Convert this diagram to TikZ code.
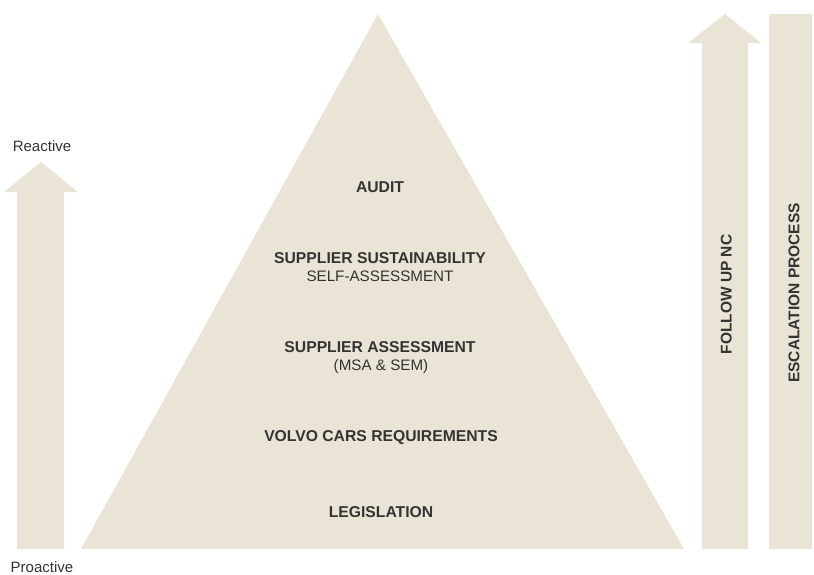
\documentclass[tikz,border=0pt]{standalone}
\usepackage{fontspec}
\setmainfont{Liberation Sans}
\definecolor{beige}{HTML}{EAE4D6}
\definecolor{txt}{HTML}{333333}
\begin{document}
\begin{tikzpicture}[x=1pt,y=-1pt,
  shapefill/.style={fill=beige,draw=none},
  lvl/.style={anchor=base,inner sep=0pt,text=txt,font=\fontsize{15.7}{17}\selectfont\bfseries},
  sub/.style={anchor=base,inner sep=0pt,text=txt,font=\fontsize{15.2}{17}\selectfont},
  side/.style={anchor=base,inner sep=0pt,text=txt,font=\fontsize{15}{17}\selectfont},
  vert/.style={anchor=base,inner sep=0pt,rotate=90,text=txt,font=\fontsize{15.5}{17}\selectfont\bfseries}]
\useasboundingbox (0,0) rectangle (814,575);
% pyramid
\path[shapefill] (378,14) -- (81,549) -- (684,549) -- cycle;
% left arrow
\path[shapefill] (41,162) -- (78,192) -- (64,192) -- (64,549) -- (17,549) -- (17,192) -- (4,192) -- cycle;
% right arrow
\path[shapefill] (725,14) -- (761,43) -- (748,43) -- (748,549) -- (702,549) -- (702,43) -- (688,43) -- cycle;
% escalation bar
\path[shapefill] (769,14) rectangle (812,549);
% texts
\node[side] (reactive) at (42,152) {Reactive};
\node[side] (proactive) at (42,572.5) {Proactive};
\node[lvl] (audit) at (380,192) {AUDIT};
\node[lvl] (sss) at (380,263.5) {SUPPLIER SUSTAINABILITY};
\node[sub] (ssa) at (380,281) {SELF-ASSESSMENT};
\node[lvl] (sa) at (380,352.7) {SUPPLIER ASSESSMENT};
\node[sub] (msa) at (381,370.5) {(MSA \& SEM)};
\node[lvl] (vcr) at (381,441.7) {VOLVO CARS REQUIREMENTS};
\node[lvl] (leg) at (381,517.3) {LEGISLATION};
\node[vert] (follow) at (731.7,294.5) {FOLLOW UP NC};
\node[vert] (esc) at (799.3,293) {ESCALATION PROCESS};
\end{tikzpicture}
\end{document}
